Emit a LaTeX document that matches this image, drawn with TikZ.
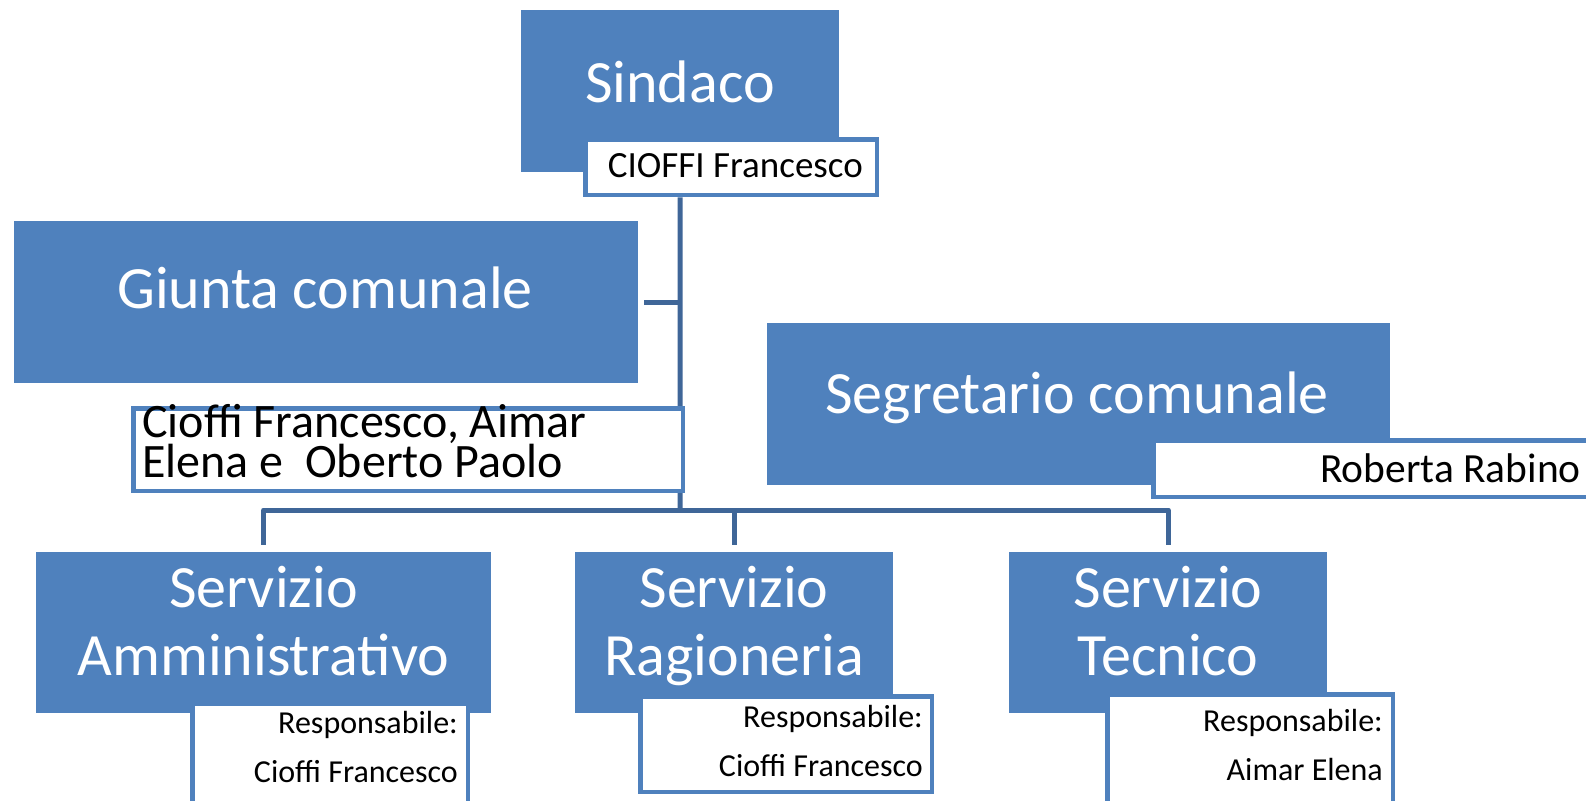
\documentclass[tikz,border=0pt]{standalone}
\usepackage{fontspec}
\setmainfont{Carlito}
\usetikzlibrary{backgrounds}
\definecolor{boxblue}{RGB}{79,129,189}
\definecolor{linkblue}{RGB}{63,102,152}
\begin{document}
\begin{tikzpicture}[x=1pt, y=-1pt,
    mainbox/.style={fill=boxblue, draw=none, inner sep=0pt, anchor=north west},
    subbox/.style={fill=white, draw=boxblue, line width=4.5pt, inner sep=0pt, anchor=north west},
    bigtext/.style={text=white, font=\fontsize{60}{68}\selectfont, inner sep=0pt, anchor=base, align=center},
    resptext/.style={text=black, font=\fontsize{32}{49}\selectfont, inner sep=0pt, anchor=base east, align=right},
    link/.style={draw=linkblue, line width=5pt, line join=round}]
        \useasboundingbox (0,0) rectangle (1586,800);
        \clip (0,0) rectangle (1586,800);
        % top
        \node[mainbox, minimum width=318, minimum height=162] (sindaco) at (521,10) {};
        \node[subbox, minimum width=291.5, minimum height=55.5] (sindacosub) at (583.25,137.25) {};
        \node[bigtext] (sindacotxt) at (680,102) {Sindaco};
        \node[text=black, font=\fontsize{37}{40}\selectfont, inner sep=0pt, anchor=base east] (sindaconame) at (863,177) {CIOFFI Francesco};
        % giunta
        \node[mainbox, minimum width=624, minimum height=162] (giunta) at (14,221) {};
        \node[bigtext] (giuntatxt) at (325,308) {Giunta comunale};
        \node[subbox, minimum width=549.5, minimum height=82.5] (giuntasub) at (131.25,406.25) {};
        \node[text=black, font=\fontsize{48}{40}\selectfont, inner sep=0pt, anchor=base west, align=left] (giuntanames) at (142,477) {Cioffi Francesco, Aimar\\Elena e~ Oberto Paolo};
        % segretario
        \node[mainbox, minimum width=623, minimum height=162] (segretario) at (767,323) {};
        \node[bigtext] (segretariotxt) at (1077,413) {Segretario comunale};
        \node[subbox, minimum width=446, minimum height=56.5] (segretariosub) at (1151.25,438.25) {};
        \node[text=black, font=\fontsize{41.5}{44}\selectfont, inner sep=0pt, anchor=base east] (segretarioname) at (1581,482) {Roberta Rabino};
        % servizi
        \node[mainbox, minimum width=455, minimum height=161] (amm) at (36,552) {};
        \node[bigtext] (ammtxt) at (263.5,675) {Servizio\\Amministrativo};
        \node[subbox, minimum width=275.5, minimum height=120] (ammsub) at (190.25,701.25) {};
        \node[resptext] (ammresp) at (458,782) {Responsabile:\\Cioffi Francesco};
        \node[mainbox, minimum width=318, minimum height=161] (rag) at (575,552) {};
        \node[bigtext] (ragtxt) at (734,675) {Servizio\\Ragioneria};
        \node[subbox, minimum width=291.5, minimum height=95.5] (ragsub) at (638.25,694.25) {};
        \node[resptext] (ragresp) at (923,776) {Responsabile:\\Cioffi Francesco};
        \node[mainbox, minimum width=318, minimum height=161] (tec) at (1009,552) {};
        \node[bigtext] (tectxt) at (1168,675) {Servizio\\Tecnico};
        \node[subbox, minimum width=285.5, minimum height=130] (tecsub) at (1105.25,692.25) {};
        \node[resptext] (tecresp) at (1383,780) {Responsabile:\\Aimar Elena};
        % connectors
        \coordinate (hub) at (680,510);
        \begin{pgfonlayer}{background}
        \draw[link] (sindaco.south |- sindacosub.south) -- (hub);
        \draw[link, shorten <=6pt] (giunta.east) -- (giunta.east -| hub);
        \draw[link, shorten >=7pt] (hub) -| (amm.north);
        \draw[link, shorten >=7pt] (hub) -| (rag.north);
        \draw[link, shorten >=7pt] (hub) -| (tec.north);
        \end{pgfonlayer}
      \end{tikzpicture}
\end{document}
